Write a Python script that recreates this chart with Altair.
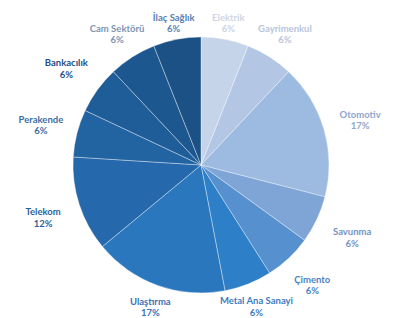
import altair as alt
import pandas as pd

sectors = ["Elektrik", "Gayrimenkul", "Otomotiv", "Savunma", "Çimento",
           "Metal Ana Sanayi", "Ulaştırma", "Telekom", "Perakende",
           "Bankacılık", "Cam Sektörü", "İlaç Sağlık"]
shares = [6, 6, 17, 6, 6, 6, 17, 12, 6, 6, 6, 6]
slice_colors = ["#c6d4ea", "#b3c7e5", "#9dbae0", "#7fa5d6", "#5690cf",
                "#2d7fc8", "#2a77be", "#2569ac", "#2263a2", "#1f5d98",
                "#1d5790", "#1b5184"]
label_colors = ["#cdd5e3", "#b9c4da", "#8ea7cd", "#7592c2", "#4b82c6",
                "#3f7cbf", "#3b72b6", "#2c5f98", "#3a70a8", "#23508a",
                "#7e94b4", "#5a80b2"]

CX, CY = 193, 157      # pie centre inside the view (px)
R_PIE = 128
LAB_CY = CY - 4
RX_LAB, RY_LAB, N_LAB = 163, 144, 2.5  # super-elliptical label ring

df = pd.DataFrame({
    "sector": sectors,
    "share": shares,
    "idx": list(range(len(sectors))),
    "label": [f"{s}\n{v}%" for s, v in zip(sectors, shares)],
})

theta = alt.Theta("share:Q", stack=True)
order = alt.Order("idx:Q", sort="ascending")

pie = alt.Chart(df).mark_arc(outerRadius=R_PIE, stroke="#ffffff", strokeWidth=0.6, strokeOpacity=0.6).encode(
    theta=theta,
    order=order,
    color=alt.Color("sector:N", scale=alt.Scale(domain=sectors, range=slice_colors), legend=None),
    x=alt.value(CX),
    y=alt.value(CY),
)

labels = alt.Chart(df).transform_joinaggregate(
    total="sum(share)"
).transform_window(
    cum="sum(share)", sort=[alt.SortField("idx", order="ascending")]
).transform_calculate(
    ang="2*PI*(datum.cum - datum.share/2)/datum.total"
).transform_calculate(
    rr=(f"1/pow(pow(abs(sin(datum.ang))/{RX_LAB},{N_LAB})"
        f"+pow(abs(cos(datum.ang))/{RY_LAB},{N_LAB}),1/{N_LAB})")
).transform_calculate(
    lx=f"{CX} + datum.rr*sin(datum.ang)",
    ly=f"{LAB_CY} - datum.rr*cos(datum.ang)",
).mark_text(
    lineBreak="\n", font="Lato", fontSize=9.5, fontWeight="bold",
    lineHeight=11.5, align="center", baseline="middle",
).encode(
    x=alt.X("lx:Q", scale=None, axis=None),
    y=alt.Y("ly:Q", scale=None, axis=None),
    text="label:N",
    color=alt.Color("sector:N", scale=alt.Scale(domain=sectors, range=label_colors), legend=None),
)

chart = alt.layer(pie, labels).resolve_scale(color="independent").properties(
    width=379, height=310, padding=0, autosize=alt.AutoSizeParams(type="none"),
).configure_view(stroke=None)

chart.save("out.html", embed_options={"renderer": "svg", "actions": False})
